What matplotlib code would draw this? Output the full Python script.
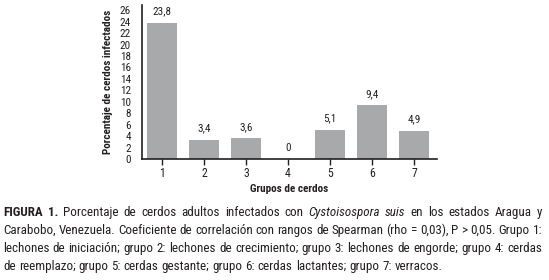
import matplotlib
matplotlib.use("Agg")
import matplotlib.pyplot as plt
from matplotlib import font_manager

groups = [1, 2, 3, 4, 5, 6, 7]
percent = [23.8, 3.4, 3.6, 0, 5.1, 9.4, 4.9]
value_labels = ["23,8", "3,4", "3,6", "0", "5,1", "9,4", "4,9"]
yticks = list(range(0, 27, 2))

caption_lines = [
    [("FIGURA 1.", "bold"), ("Porcentaje de cerdos adultos infectados con", "normal"),
     ("Cystoisospora suis", "italic"), ("en los estados Aragua y", "normal")],
    [("Carabobo, Venezuela. Coeficiente de correlación con rangos de Spearman (rho = 0,03), P > 0,05. Grupo 1:", "normal")],
    [("lechones de iniciación; grupo 2: lechones de crecimiento; grupo 3: lechones de engorde; grupo 4: cerdas", "normal")],
    [("de reemplazo; grupo 5: cerdas gestante; grupo 6: cerdas lactantes; grupo 7: verracos.", "normal")],
]

# condensed family with a bold weight, close to Univers Condensed
names = {f.name for f in font_manager.fontManager.ttflist}
fam = "Liberation Sans"
for cand in ["Roboto Condensed", "Fira Sans Condensed", "IBM Plex Sans Condensed",
             "Asap Condensed", "Barlow Semi Condensed", "Barlow Condensed"]:
    if cand in names:
        fam = cand
        break
plt.rcParams['font.family'] = [fam, 'DejaVu Sans']

ink = "#231f20"
bar_col = "#a7a9ab"

fig = plt.figure(figsize=(5.49, 2.8), dpi=100)
ax = fig.add_axes([142/549, 1 - 159/280, (437-142)/549, (159-5)/280])

ax.bar(groups, percent, width=0.72, color=bar_col, zorder=2)
for g, v, lab in zip(groups, percent, value_labels):
    ax.text(g, v + 1.1, lab, ha="center", va="bottom", fontsize=8, color=ink)

ax.set_xlim(0.52, 7.55)
ax.set_ylim(0, 26.9)
ax.set_yticks(yticks)
ax.set_xticks(groups)
ax.tick_params(axis="y", length=0, pad=8, labelsize=8, colors=ink)
ax.tick_params(axis="x", length=4, width=1, pad=2, labelsize=8.5, colors=ink)
for s in ["top", "right"]:
    ax.spines[s].set_visible(False)
for s in ["left", "bottom"]:
    ax.spines[s].set_linewidth(1.2)
    ax.spines[s].set_color(ink)
ax.set_ylabel("Porcentaje de cerdos infectados", fontsize=8, fontweight="bold",
              color=ink, labelpad=5)
ax.set_xlabel("Grupos de cerdos", fontsize=8, fontweight="bold", color=ink, labelpad=3)

# justified caption
renderer = fig.canvas.get_renderer()
W = fig.bbox.width
x_left, x_right = 3 / 549, 542 / 549
line_y = [216, 234, 252, 270]

# font size so the longest line fits with normal spacing
probe = fig.text(0, 0, caption_lines[1][0][0], fontsize=10)
need = probe.get_window_extent(renderer).width / W
probe.remove()
fs = min(10, 10 * (x_right - x_left) / need * 0.99)

space = fig.text(0, 0, "a a", fontsize=fs)
space_w = space.get_window_extent(renderer).width
space.set_text("aa")
space_w = (space_w - space.get_window_extent(renderer).width) / W
space.remove()

for i, (line, yp) in enumerate(zip(caption_lines, line_y)):
    words = []
    for chunk, style in line:
        for w in chunk.split(" "):
            words.append((w, style))
    texts = []
    for w, style in words:
        kw = dict(fontsize=fs, color=ink, va="baseline", ha="left")
        if style == "bold":
            kw["fontweight"] = "bold"
        elif style == "italic":
            kw["fontstyle"] = "italic"
        texts.append(fig.text(0, 1 - yp / 280, w, **kw))
    widths = [t.get_window_extent(renderer).width / W for t in texts]
    if i == len(caption_lines) - 1:
        gap = space_w
    else:
        gap = (x_right - x_left - sum(widths)) / (len(texts) - 1)
    x = x_left
    for t, w in zip(texts, widths):
        t.set_x(x)
        x += w + gap

fig.savefig("out.png", dpi=100)
